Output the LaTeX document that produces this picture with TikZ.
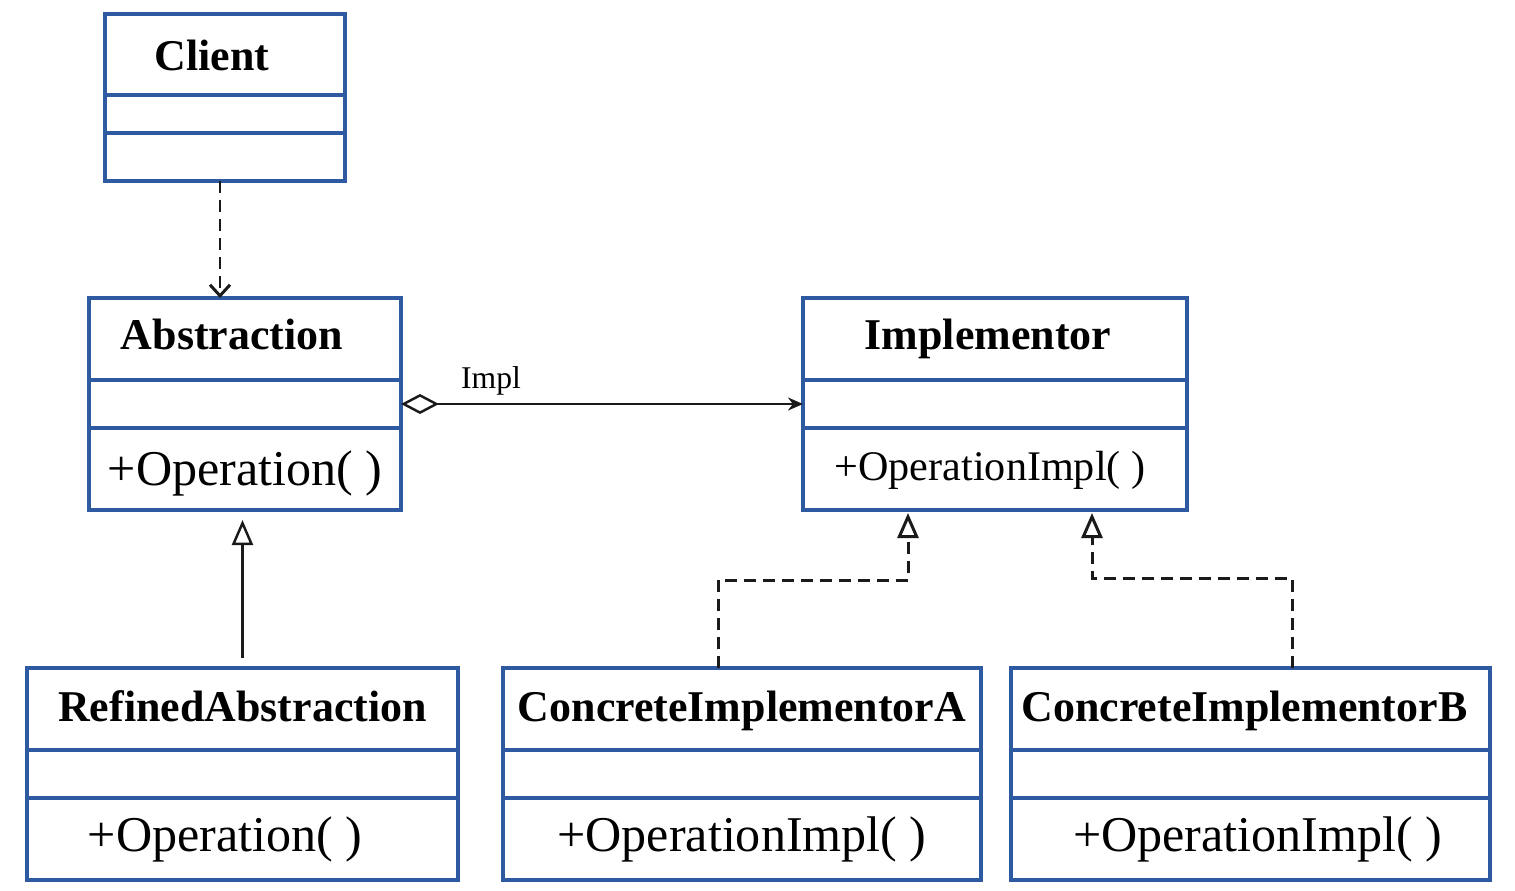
\documentclass[tikz,border=0pt]{standalone}
\usepackage{fontspec}
\setmainfont{Liberation Serif}
\usetikzlibrary{arrows.meta,positioning}
\definecolor{umlblue}{HTML}{2D5AA0}
\definecolor{linegray}{HTML}{1A1A1A}

\begin{document}
\begin{tikzpicture}[
  line width=1.4pt,
  umlclass/.style={rectangle, draw=umlblue, line width=2pt, outer sep=0pt, inner sep=0pt, minimum height=4.24cm},
  divider/.style={draw=umlblue, line width=2pt},
  classname/.style={anchor=base, font=\fontsize{25}{30}\selectfont\bfseries},
  classop/.style={anchor=base, font=\fontsize{28.5}{34}\selectfont},
  depend/.style={draw=linegray, line width=1.7pt, dash pattern=on 6.8pt off 4pt, -{Straight Barb[length=2.2mm, width=4mm]}},
  aggreg/.style={draw=linegray, {Diamond[open, length=0.76cm, width=0.4cm]}-{Stealth[length=0.3cm, width=0.26cm]}},
  inherit/.style={draw=linegray, -{Triangle[open, length=0.5cm, width=0.42cm]}},
  realize/.style={inherit, line width=1.7pt, dash pattern=on 6.8pt off 4pt}
]
  \useasboundingbox (0,0) rectangle (30.3,-17.8);

  % class boxes
  \node[umlclass, minimum width=4.8cm, minimum height=3.34cm] (client) at (4.5,-1.95) {};
  \node[umlclass, minimum width=6.24cm] (abs) at (4.9,-8.08) {};
  \node[umlclass, minimum width=7.68cm] (imp) at (19.9,-8.08) {};
  \node[umlclass, minimum width=8.62cm] (ref) at (4.85,-15.48) {};
  \node[umlclass, minimum width=9.56cm] (cia) at (14.84,-15.48) {};
  \node[umlclass, minimum width=9.58cm] (cib) at (25.01,-15.48) {};

  % compartments
  \draw[divider] ([yshift=-1.62cm]client.north west) -- ([yshift=-1.62cm]client.north east);
  \draw[divider] ([yshift=-2.38cm]client.north west) -- ([yshift=-2.38cm]client.north east);
  \foreach \c in {abs,imp,ref,cia,cib}{
    \draw[divider] ([yshift=-1.64cm]\c.north west) -- ([yshift=-1.64cm]\c.north east);
    \draw[divider] ([yshift=1.64cm]\c.south west) -- ([yshift=1.64cm]\c.south east);
  }

  % names and operations
  \node[classname] (client-name) at ([xshift=-0.26cm, yshift=-1.12cm]client.north) {Client};
  \node[classname] (abs-name) at ([xshift=-0.26cm, yshift=-1.03cm]abs.north) {Abstraction};
  \node[classop] (abs-op) at ([yshift=0.49cm]abs.south) {+Operation( )};
  \node[classname] (imp-name) at ([xshift=-0.14cm, yshift=-1.03cm]imp.north) {Implementor};
  \node[classop, font=\fontsize{24}{29}\selectfont] (imp-op) at ([xshift=-0.1cm, yshift=0.6cm]imp.south) {+OperationImpl( )};
  \node[classname] (ref-name) at ([yshift=-1.06cm]ref.north) {RefinedAbstraction};
  \node[classop] (ref-op) at ([xshift=-0.35cm, yshift=0.57cm]ref.south) {+Operation( )};
  \node[classname] (cia-name) at ([yshift=-1.06cm]cia.north) {ConcreteImplementorA};
  \node[classop] (cia-op) at ([yshift=0.57cm]cia.south) {+OperationImpl( )};
  \node[classname] (cib-name) at ([xshift=-0.12cm, yshift=-1.06cm]cib.north) {ConcreteImplementorB};
  \node[classop] (cib-op) at ([xshift=0.14cm, yshift=0.57cm]cib.south) {+OperationImpl( )};

  % relations
  \draw[depend] ([xshift=-0.1cm]client.south) -- ([xshift=-0.1cm]client.south |- abs.north);
  \draw[aggreg] (abs.east) -- (imp.west);
  \node[anchor=base, font=\fontsize{18}{22}\selectfont] (impl) at ([xshift=1.8cm, yshift=0.32cm]abs.east) {Impl};
  \draw[inherit, shorten <=0.2cm, shorten >=0.2cm] (ref.north) -- (ref.north |- abs.south);
  \draw[realize, shorten >=0.06cm] ([xshift=4.3cm]cia.north west) |- ([xshift=2.1cm, yshift=-1.4cm]imp.south west) -- ([xshift=2.1cm]imp.south west);
  \draw[realize, shorten >=0.06cm] ([xshift=5.62cm]cib.north west) |- ([xshift=5.78cm, yshift=-1.36cm]imp.south west) -- ([xshift=5.78cm]imp.south west);
\end{tikzpicture}
\end{document}
